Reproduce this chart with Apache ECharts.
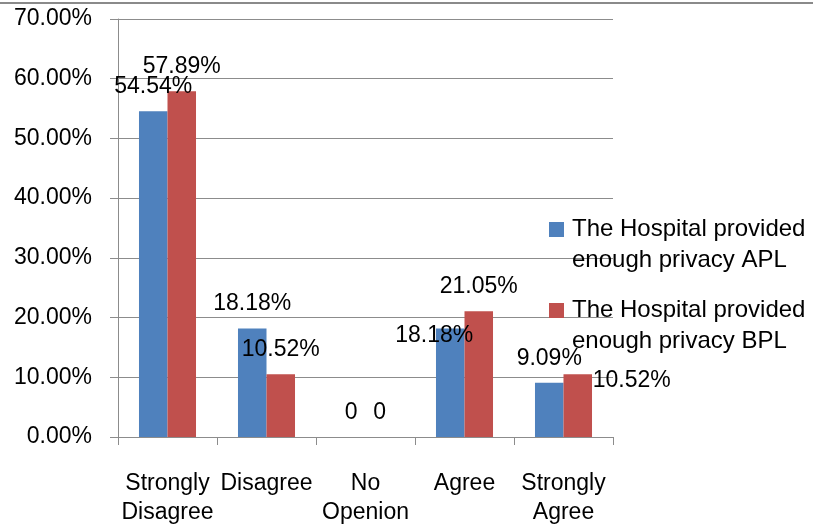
<!DOCTYPE html>
<html>
<head>
<meta charset="utf-8">
<script src="https://cdn.jsdelivr.net/npm/echarts@6/dist/echarts.min.js"></script>
<style>
html,body{margin:0;padding:0;background:#fff;}
#chart{width:813px;height:529px;}
</style>
</head>
<body>
<div id="chart"></div>
<script>
var categories = ['Strongly\nDisagree', 'Disagree', 'No\nOpenion', 'Agree', 'Strongly\nAgree'];
var seriesNames = ['The Hospital provided\nenough privacy APL', 'The Hospital provided\nenough privacy BPL'];
var aplValues = [54.54, 18.18, 0, 18.18, 9.09];
var bplValues = [57.89, 10.52, 0, 21.05, 10.52];
var yTicks = [0, 10, 20, 30, 40, 50, 60, 70];

var FONT = 'Liberation Sans';
var FS = 23;
var colors = ['#4F81BD', '#C0504D'];
// manual label nudges (as in the original chart)
var nudges = [
  [null, null, null, [-16, 32], null],
  [null, null, null, null, [54, 31]]
];

function fmtLabel(v) { return v === 0 ? '0' : v.toFixed(2) + '%'; }

function buildData(vals, si) {
  return vals.map(function (v, i) {
    var item = { value: v };
    if (nudges[si][i]) item.label = { offset: nudges[si][i] };
    return item;
  });
}

var chart = echarts.init(document.getElementById('chart'), null, { renderer: 'canvas' });
var axisGray = '#8c8c8c';
var option = {
  backgroundColor: '#fff',
  animation: false,
  textStyle: { fontFamily: FONT },
  grid: { left: 118, right: 200, top: 19, bottom: 92, containLabel: false },
  legend: {
    orient: 'vertical',
    left: 549,
    top: 183,
    padding: 0,
    itemWidth: 15,
    itemHeight: 15,
    itemGap: -12,
    icon: 'rect',
    data: seriesNames,
    // leading blank line keeps the marker level with the first text line
    formatter: function (name) { return '\n' + name; },
    textStyle: { fontFamily: FONT, fontSize: 24, lineHeight: 31, color: '#000', padding: [0, 0, 0, 3] }
  },
  xAxis: {
    type: 'category',
    data: categories,
    axisLine: { lineStyle: { color: axisGray, width: 1 } },
    axisTick: { show: true, length: 8, lineStyle: { color: axisGray } },
    axisLabel: { color: '#000', fontFamily: FONT, fontSize: FS, lineHeight: 29, margin: 32, interval: 0 }
  },
  yAxis: {
    type: 'value',
    min: 0,
    max: yTicks[yTicks.length - 1],
    interval: 10,
    axisLine: { show: true, lineStyle: { color: axisGray, width: 1 } },
    axisTick: { show: true, length: 8, lineStyle: { color: axisGray } },
    splitLine: { show: true, lineStyle: { color: axisGray, width: 1 } },
    axisLabel: {
      color: '#000', fontFamily: FONT, fontSize: FS, margin: 26,
      formatter: function (v) { return v.toFixed(2) + '%'; }
    }
  },
  series: [0, 1].map(function (si) {
    return {
      name: seriesNames[si],
      type: 'bar',
      data: buildData(si === 0 ? aplValues : bplValues, si),
      barGap: '0%',
      barCategoryGap: '42.4%',
      itemStyle: { color: colors[si] },
      label: {
        show: true,
        position: 'top',
        distance: 13,
        color: '#000',
        fontFamily: FONT,
        fontSize: FS,
        formatter: function (p) { return fmtLabel(p.value); }
      }
    };
  }),
  graphic: [{
    type: 'line',
    shape: { x1: 0, y1: 3, x2: 813, y2: 3 },
    style: { stroke: '#8a8a8a', lineWidth: 2 },
    silent: true
  }]
};
chart.setOption(option);
</script>
</body>
</html>
